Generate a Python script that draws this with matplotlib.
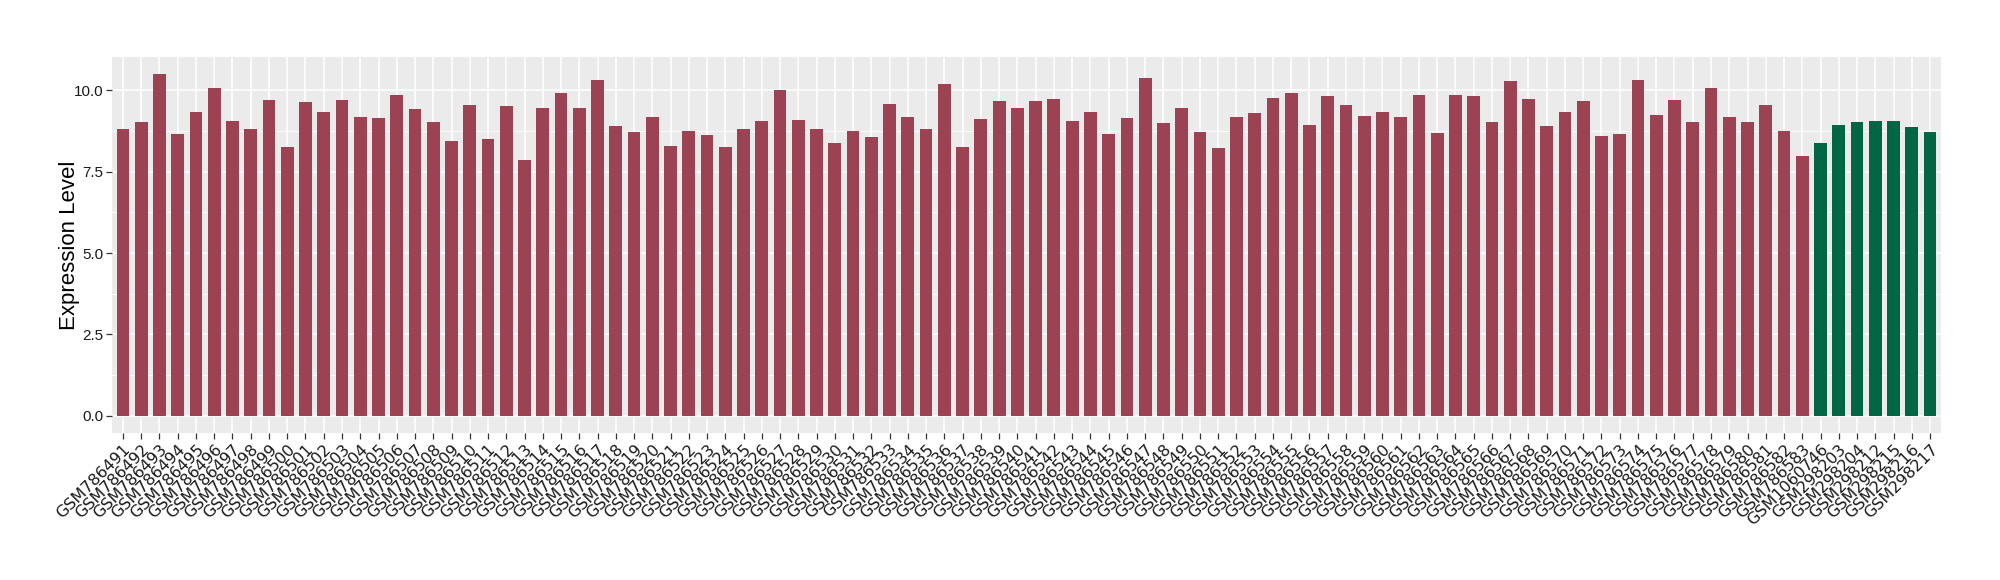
import numpy as np
import matplotlib
matplotlib.use("Agg")
import matplotlib.pyplot as plt
from matplotlib.ticker import MultipleLocator

# samples: 93 red (GSM786491..GSM786583) then 7 green
red_samples = ["GSM%d" % n for n in range(786491, 786584)]
green_samples = ["GSM1060746", "GSM298203", "GSM298204", "GSM298212",
                 "GSM298215", "GSM298216", "GSM298217"]

red_values = [8.82, 9.01, 10.51, 8.64, 9.34, 10.08, 9.04, 8.82, 9.71, 8.24,
              9.65, 9.34, 9.71, 9.16, 9.13, 9.84, 9.41, 9.01, 8.45, 9.53,
              8.51, 9.50, 7.87, 9.44, 9.90, 9.44, 10.30, 8.91, 8.70, 9.19,
              8.27, 8.73, 8.61, 8.24, 8.82, 9.04, 9.99, 9.07, 8.82, 8.39,
              8.76, 8.55, 9.56, 9.16, 8.82, 10.20, 8.24, 9.10, 9.68, 9.44,
              9.68, 9.74, 9.04, 9.34, 8.64, 9.13, 10.36, 8.98, 9.44, 8.70,
              8.21, 9.19, 9.31, 9.77, 9.90, 8.94, 9.81, 9.53, 9.22, 9.34,
              9.16, 9.84, 8.67, 9.84, 9.81, 9.01, 10.27, 9.74, 8.91, 9.34,
              9.68, 8.58, 8.64, 10.30, 9.25, 9.71, 9.01, 10.05, 9.19, 9.01,
              9.53, 8.73, 7.99]
green_values = [8.39, 8.94, 9.01, 9.04, 9.04, 8.88, 8.70]

samples = red_samples + green_samples
values = red_values + green_values
colors = ["#9B4352"] * len(red_values) + ["#006644"] * len(green_values)

fig = plt.figure(figsize=(20, 5.8), dpi=100)
ax = fig.add_axes([0.056, 0.2534, 0.9145, 0.6488])
ax.set_facecolor("#EBEBEB")

x = np.arange(len(samples))
ax.bar(x, values, width=0.7, color=colors, zorder=3)

ax.set_xlim(-0.6, len(samples) - 0.4)
ax.set_ylim(-0.525, 11.025)
ax.yaxis.set_major_locator(MultipleLocator(2.5))
ax.yaxis.set_minor_locator(MultipleLocator(1.25))
ax.set_xticks(x)
ax.set_xticklabels(samples, rotation=45, ha="right", va="top",
                   rotation_mode="anchor", fontsize=11.5, family="DejaVu Sans",
                   color="#1a1a1a")
ax.set_yticks([0, 2.5, 5, 7.5, 10])
ax.set_yticklabels(["0.0", "2.5", "5.0", "7.5", "10.0"], fontsize=11,
                   family="Liberation Sans", color="#1a1a1a")

ax.grid(which="major", color="white", linewidth=1.1, zorder=1)
ax.grid(which="minor", axis="y", color="white", linewidth=0.55, zorder=1)
ax.tick_params(axis="both", which="major", length=4, width=0.9,
               color="#333333", pad=2)
ax.tick_params(axis="y", which="minor", length=0)
for s in ax.spines.values():
    s.set_visible(False)

ax.set_ylabel("Expression Level", fontsize=16, family="Liberation Sans")
ax.yaxis.set_label_coords(-0.0175, 0.5)

fig.savefig("out.png", dpi=100, facecolor="white")
